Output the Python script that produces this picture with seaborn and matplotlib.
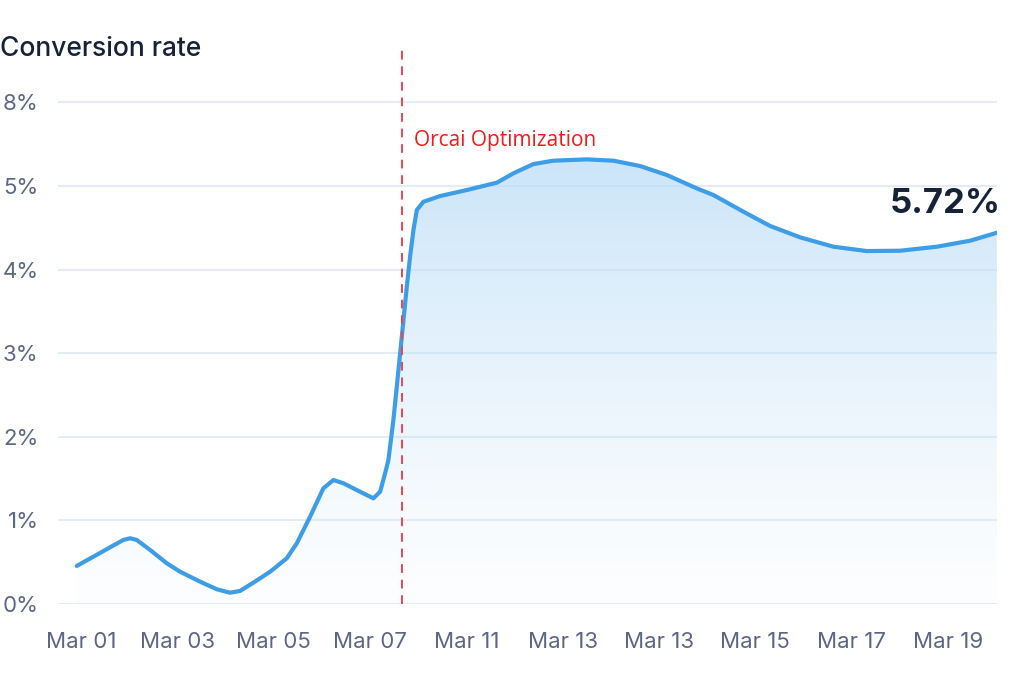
import numpy as np
import matplotlib
matplotlib.use("Agg")
import matplotlib.pyplot as plt
import seaborn as sns
from matplotlib.patches import Polygon

# values (x in tick-slot units, y in axis units)
day_pos = [-0.045, 0.128, 0.301, 0.439, 0.509, 0.578, 0.717, 0.890, 1.028, 1.236,
           1.409, 1.547, 1.651, 1.789, 1.963, 2.136, 2.240, 2.378, 2.516, 2.620,
           2.724, 2.897, 3.035, 3.105, 3.157, 3.191, 3.243, 3.313, 3.382, 3.416,
           3.451, 3.486, 3.555, 3.728, 4.005, 4.317, 4.489, 4.697, 4.904, 5.251,
           5.528, 5.805, 6.082, 6.393, 6.566, 6.877, 7.155, 7.466, 7.812, 8.159,
           8.505, 8.886, 9.232, 9.509]
rate = [0.455, 0.566, 0.678, 0.766, 0.786, 0.766, 0.646, 0.487, 0.386, 0.267,
        0.176, 0.135, 0.156, 0.255, 0.386, 0.547, 0.726, 1.044, 1.384, 1.483,
        1.444, 1.343, 1.264, 1.343, 1.563, 1.722, 2.201, 2.999, 3.795, 4.154,
        4.474, 4.713, 4.812, 4.880, 4.952, 5.040, 5.152, 5.263, 5.303, 5.319,
        5.303, 5.239, 5.132, 4.972, 4.892, 4.693, 4.522, 4.386, 4.274, 4.222,
        4.226, 4.274, 4.346, 4.441]
x_labels = ["Mar 01", "Mar 03", "Mar 05", "Mar 07", "Mar 11",
            "Mar 13", "Mar 13", "Mar 15", "Mar 17", "Mar 19"]
y_labels = ["0%", "1%", "2%", "3%", "4%", "5%", "8%"]
event_pos = 3.33
event_label = "Orcai Optimization"
last_value_label = "5.72%"

sns.set_theme(style="white")
plt.rcParams["font.family"] = ["Inter", "DejaVu Sans"]

fig = plt.figure(figsize=(10.24, 6.83), dpi=100)
ax = fig.add_axes([0.0566, 0.1157, 0.917, 0.82])

xmin, xmax = -0.24, 9.51
ymax = 6.7
ax.set_xlim(xmin, xmax)
ax.set_ylim(0, ymax)

# gradient fill under the curve
grad = np.linspace(0, 1, 256).reshape(-1, 1)
rgba = np.zeros((256, 1, 4))
rgba[..., 0] = 0.72
rgba[..., 1] = 0.86
rgba[..., 2] = 0.97
rgba[..., 3] = 0.04 + 0.68 * grad ** 1.3
top = max(rate)
img = ax.imshow(rgba, extent=[xmin, xmax, 0, top], origin="lower",
                aspect="auto", zorder=1)
verts = [(day_pos[0], 0)] + list(zip(day_pos, rate)) + [(day_pos[-1], 0)]
clip = Polygon(verts, closed=True, transform=ax.transData, facecolor="none",
               edgecolor="none")
ax.add_patch(clip)
img.set_clip_path(clip)

# grid lines
for i in range(len(y_labels)):
    ax.axhline(i, color="#dde8f3", linewidth=1.1, zorder=0.5)

sns.lineplot(x=day_pos, y=rate, ax=ax, color="#3d9de6", linewidth=3.0,
             zorder=3, solid_capstyle="round", solid_joinstyle="round")

ax.axvline(event_pos, color="#ec4550", linewidth=1.4, dashes=(4.5, 3.5),
           zorder=4)
ax.text(event_pos + 0.13, 5.55, event_label, color="#f01c1c", fontsize=15,
        family=["Open Sans", "DejaVu Sans"], va="center", ha="left")

ax.text(9.55, 4.78, last_value_label, color="#16213a", fontsize=25,
        fontweight="bold", ha="right", va="center", clip_on=False)

ax.set_xticks(range(len(x_labels)))
ax.set_xticklabels(x_labels)
ax.set_yticks(range(len(y_labels)))
ax.set_yticklabels(y_labels)
ax.tick_params(axis="both", length=0, labelsize=16, labelcolor="#5b6785")
ax.tick_params(axis="x", pad=20)
ax.tick_params(axis="y", pad=14)
for s in ax.spines.values():
    s.set_visible(False)

fig.text(0.0, 0.928, "Conversion rate", color="#16213a", fontsize=19,
         fontweight="medium", ha="left", va="center")

fig.savefig("out.png", dpi=100, facecolor="white")
